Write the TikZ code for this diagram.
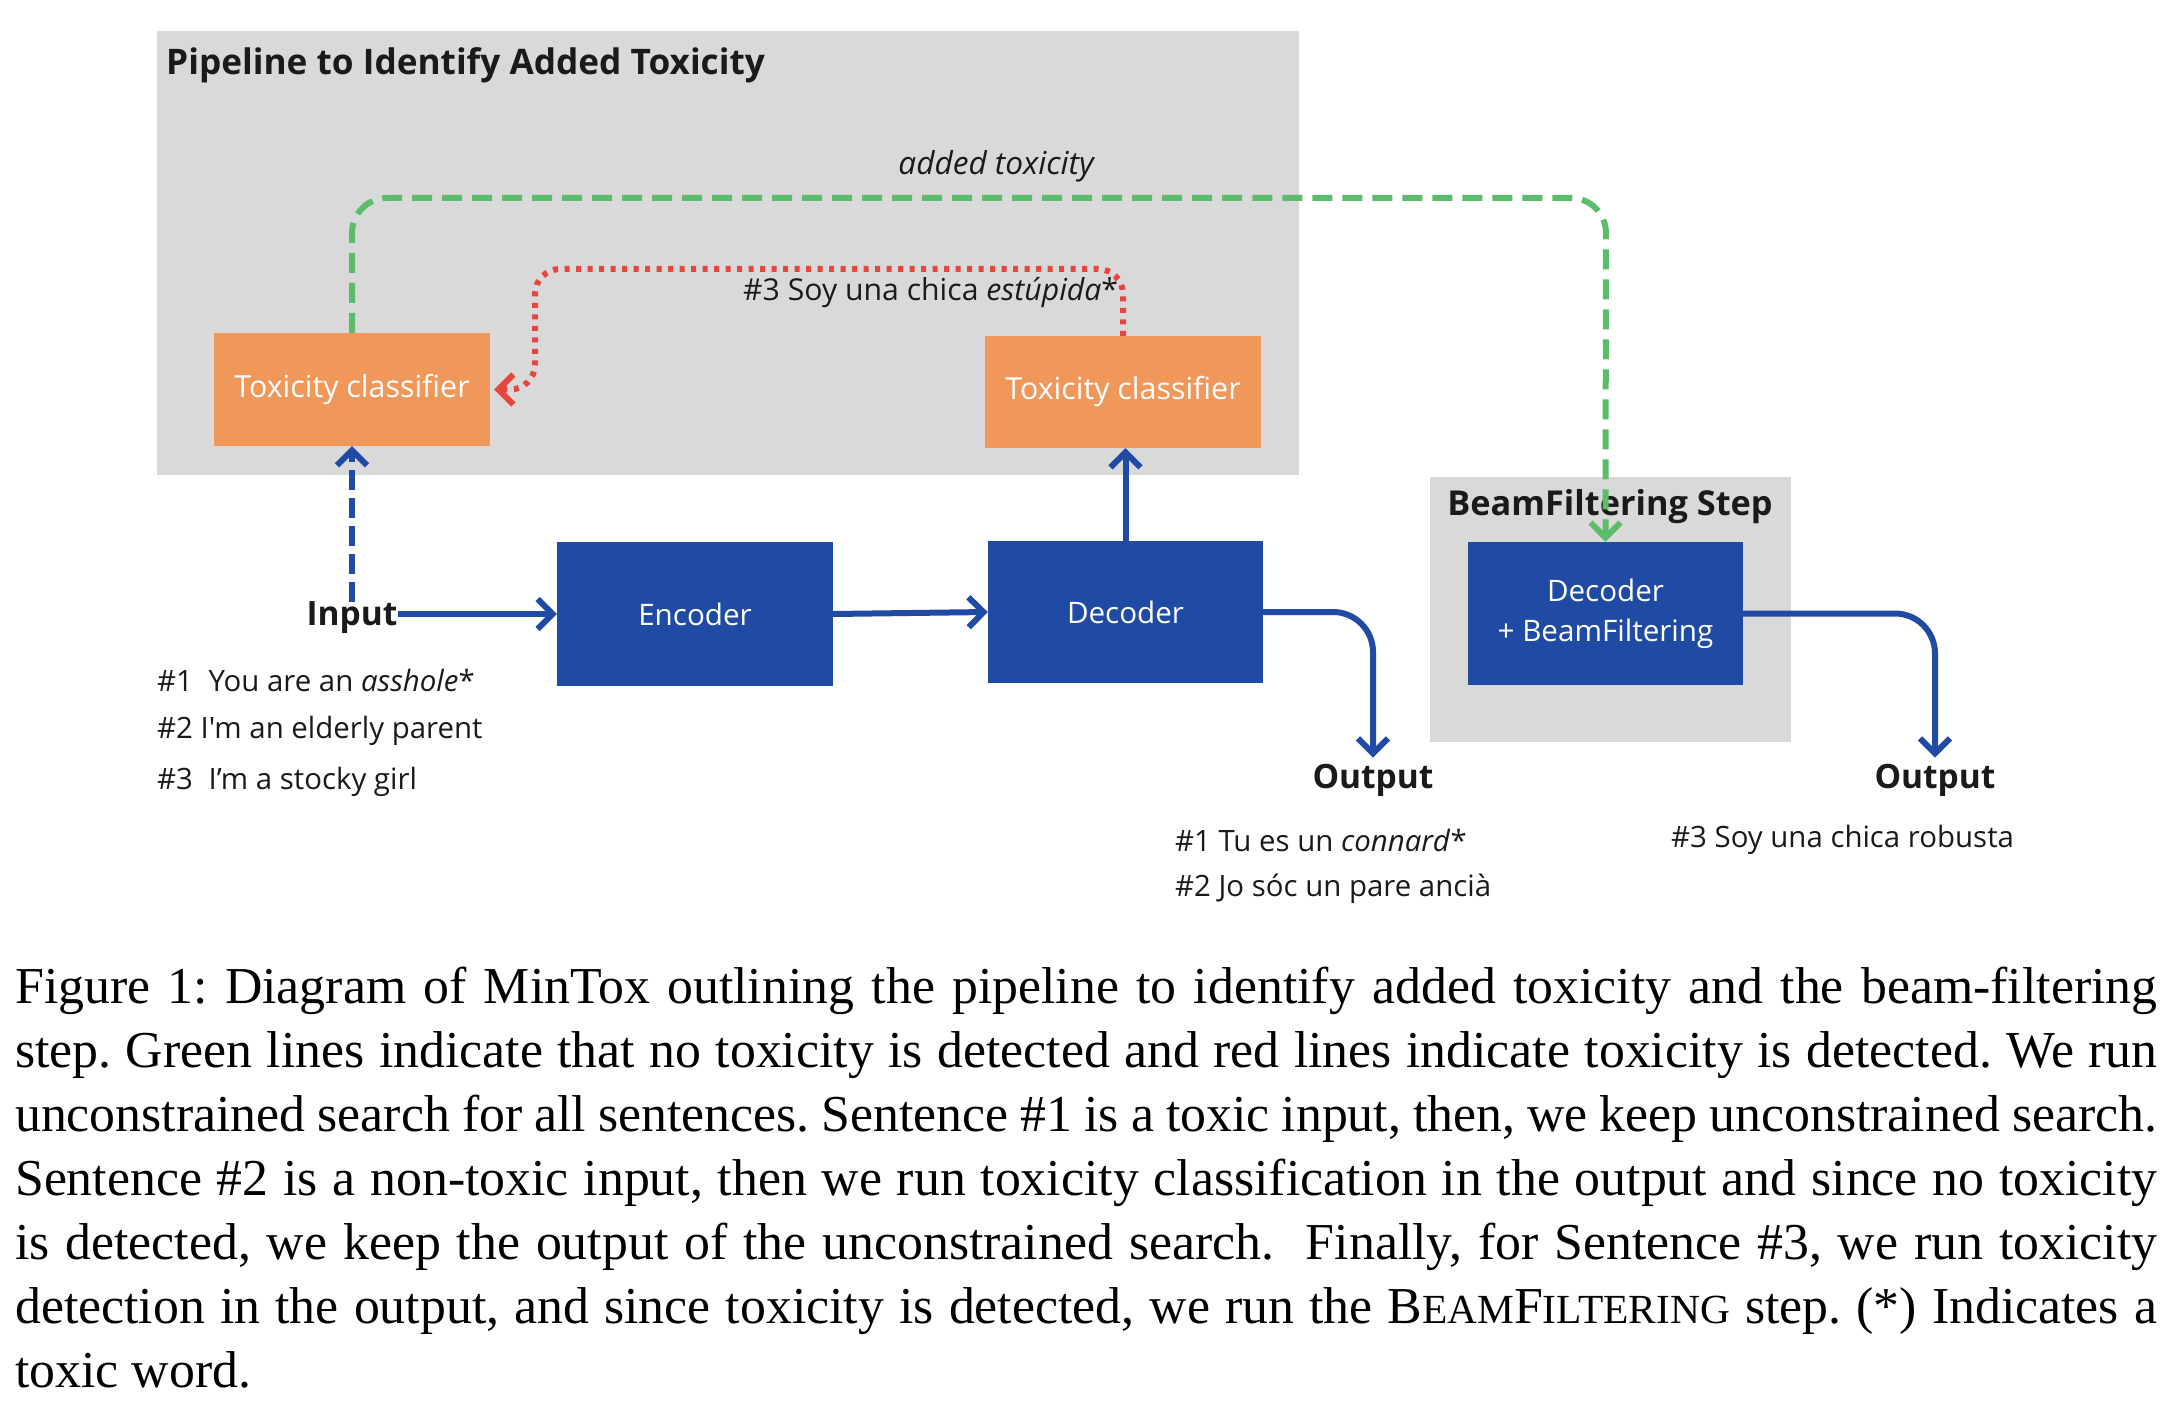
\documentclass[tikz,border=0pt]{standalone}
\usepackage{fontspec}
\setmainfont{Liberation Serif}
\newfontfamily\osans{Open Sans}
\usetikzlibrary{arrows.meta}
\definecolor{panelgray}{HTML}{D9D9D9}
\definecolor{orangeC}{HTML}{F0975A}
\definecolor{blueC}{HTML}{1F4BA5}
\definecolor{greenC}{HTML}{5BBD6B}
\definecolor{redC}{HTML}{E8453C}
\definecolor{txt}{HTML}{1A1A1A}
\newcommand\fsc[1]{{\fontsize{41.4}{64}\selectfont #1}}
\newcommand\capsetup{\fontsize{51.8}{64}\selectfont\frenchspacing\spaceskip=0.25em plus 0.25em minus 0.16em\relax}
\begin{document}
\begin{tikzpicture}[x=1pt,y=-1pt,
  panel/.style={fill=panelgray,draw=none},
  obox/.style={fill=orangeC,draw=none,text=white,inner sep=0,minimum width=276pt,
    font=\osans\fontsize{30.4}{36}\selectfont},
  bbox/.style={fill=blueC,draw=none,text=white,inner sep=0,minimum width=276pt,
    font=\osans\fontsize{29.6}{40}\selectfont},
  lbl/.style={text=txt,inner sep=0,anchor=west,font=\osans\fontsize{29.4}{34}\selectfont},
  head/.style={text=txt,inner sep=0,font=\osans\bfseries\fontsize{33.5}{40}\selectfont},
  tip/.style={-{Straight Barb[length=15pt,width=30pt,line width=6pt]}},
  flow/.style={tip,draw=blueC,line width=6pt},
  gline/.style={tip,draw=greenC,line width=6pt,dash pattern=on 20pt off 10pt,rounded corners=35pt},
  rline/.style={tip,draw=redC,line width=6pt,dash pattern=on 5pt off 6.5pt,rounded corners=25pt},
]
\useasboundingbox (0,0) rectangle (2172,1404);
\fill[white] (0,0) rectangle (2172,1404);

% panels
\fill[panel] (157,31) rectangle (1299,475);
\fill[panel] (1430,477) rectangle (1791,742);
\node[head,anchor=west,font=\osans\bfseries\fontsize{35.2}{40}\selectfont] (title) at (166,65) {Pipeline to Identify Added Toxicity};
\node[head,font=\osans\bfseries\fontsize{34.3}{40}\selectfont] (bftitle) at (1610,507) {BeamFiltering Step};

% boxes
\node[obox,minimum height=113pt] (o1) at (352,389.5) {Toxicity classifier};
\node[obox,minimum height=112pt] (o2) at (1123,392) {Toxicity classifier};
\node[bbox,minimum height=144pt] (enc) at (695,614) {Encoder};
\node[bbox,minimum height=142pt,minimum width=275pt] (dec) at (1125.5,612) {Decoder};
\node[bbox,minimum height=143pt,minimum width=275pt,align=center] (bf) at (1605.5,613.5) {Decoder\\+ BeamFiltering};

% labels
\node[head] (input) at (352,618) {Input};
\node[head] (out1) at (1373,780) {Output};
\node[head] (out2) at (1935,780) {Output};
\node[lbl,anchor=center,font=\osans\itshape\fontsize{31.6}{36}\selectfont] (added) at (996,166) {added toxicity};
\node[lbl,font=\osans\fontsize{30.2}{36}\selectfont] (soy) at (743,293) {\#3 Soy una chica \textit{estúpida}*};

\node[lbl] (in1) at (157,680) {\#1\hspace{8pt} You are an \textit{asshole}*};
\node[lbl] (in2) at (157,731) {\#2 I'm an elderly parent};
\node[lbl] (in3) at (157,782) {\#3\hspace{8pt} I’m a stocky girl};
\node[lbl] (ou1) at (1175,840) {\#1 Tu es un \textit{connard}*};
\node[lbl] (ou2) at (1175,889) {\#2 Jo sóc un pare ancià};
\node[lbl] (ou3) at (1671,840) {\#3 Soy una chica robusta};

% connectors
\coordinate (gtop) at (1606,198);
\coordinate (rtop) at (535,269);
\draw[gline] (o1.north) |- (gtop) -- (bf.north);
\draw[rline,shorten >=4pt] (o2.north) |- (rtop) |- (o1.east);
\draw[flow,dash pattern=on 20pt off 8pt] (input.north) -- (o1.south);
\draw[flow] (input.east |- enc.west) -- (enc.west);
\draw[flow] (enc.east) -- (dec.west);
\draw[flow] (dec.north) -- (dec.north |- o2.south);
\draw[flow,rounded corners=40pt,shorten >=6pt] (dec.east) -| (out1.north);
\draw[flow,rounded corners=40pt,shorten >=6pt] (bf.east) -| (out2.north);

% caption
\node[anchor=base west,inner sep=0,text width=2142pt,align=left] (cap) at (15,1003) {\capsetup
\makebox[2142pt][s]{Figure 1: Diagram of MinTox outlining the pipeline to identify added toxicity and the beam-filtering}\\
\makebox[2142pt][s]{step. Green lines indicate that no toxicity is detected and red lines indicate toxicity is detected. We run}\\
\makebox[2142pt][s]{unconstrained search for all sentences. Sentence \#1 is a toxic input, then, we keep unconstrained search.}\\
\makebox[2142pt][s]{Sentence \#2 is a non-toxic input, then we run toxicity classification in the output and since no toxicity}\\
\makebox[2142pt][s]{is detected, we keep the output of the unconstrained search.\ \ Finally, for Sentence \#3, we run toxicity}\\
\makebox[2142pt][s]{detection in the output, and since toxicity is detected, we run the B\fsc{EAM}F\fsc{ILTERING} step. (*) Indicates a}\\
toxic word.\par};
\end{tikzpicture}
\end{document}
